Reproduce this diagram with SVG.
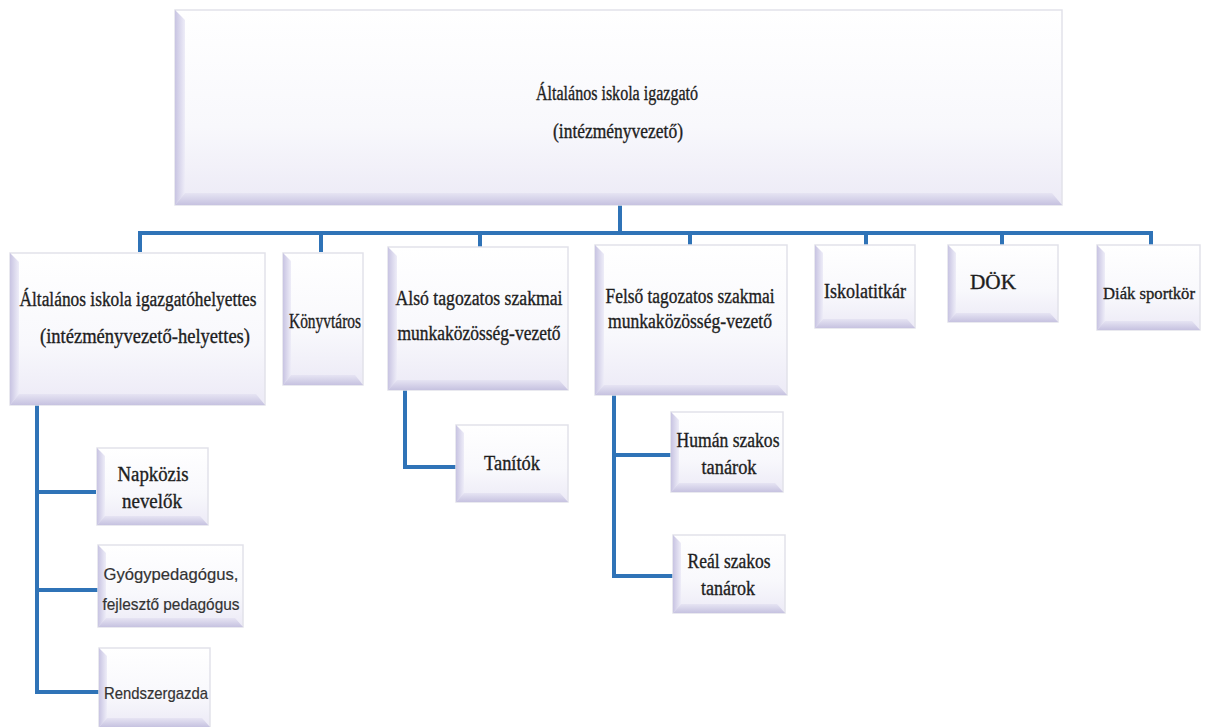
<svg xmlns="http://www.w3.org/2000/svg" width="1207" height="727" viewBox="0 0 1207 727">
<defs>
<linearGradient id="face" x1="0" y1="0" x2="0" y2="1">
<stop offset="0" stop-color="#ffffff"/>
<stop offset="0.6" stop-color="#f8f8fc"/>
<stop offset="1" stop-color="#eceaf6"/>
</linearGradient>
<linearGradient id="lb" x1="0" y1="0" x2="1" y2="0">
<stop offset="0" stop-color="#c8c4e2"/>
<stop offset="1" stop-color="#eeedf8"/>
</linearGradient>
<linearGradient id="bb" x1="0" y1="0" x2="0" y2="1">
<stop offset="0" stop-color="#e6e4f3"/>
<stop offset="1" stop-color="#c6c2e0"/>
</linearGradient>
</defs>
<style>
.box{fill:url(#face);stroke:#e2e2ea;stroke-width:1.5}
.lb{fill:url(#lb)}
.bb{fill:url(#bb)}
.t{font-family:"Liberation Serif","Times New Roman",serif;font-size:20px;fill:#1e1e1e;stroke:#1e1e1e;stroke-width:0.35;text-anchor:middle}
.s{font-family:"Liberation Sans",Arial,sans-serif;font-size:17px;fill:#333;stroke:#333;stroke-width:0.2;text-anchor:middle}
.c{fill:none;stroke:#2f73b7;stroke-width:4;stroke-linecap:square;stroke-linejoin:miter}
</style>
<rect width="1207" height="727" fill="#ffffff"/>

<g id="connectors">
<path class="c" d="M620 207 V233 M140 233 H1151 M140 233 V250 M321 233 V250 M480 233 V247 M690 233 V245 M866 233 V245 M1002 233 V245 M1151 233 V245"/>
<path class="c" d="M37 407 V692 M37 492 H94 M37 590 H96 M37 692 H98"/>
<path class="c" d="M405 392 V467 H454"/>
<path class="c" d="M614 397 V576 M614 455 H669 M614 576 H671"/>
</g>

<g id="n-igazgato">
<rect class="box" x="175" y="10" width="887" height="195"/>
<polygon class="lb" points="175,10 185,20 185,193 175,205"/>
<polygon class="bb" points="175,205 185,193 1052,193 1062,205"/>
<text class="t" x="617" y="100" textLength="162" lengthAdjust="spacingAndGlyphs">Általános iskola igazgató</text>
<text class="t" x="618" y="138" textLength="130" lengthAdjust="spacingAndGlyphs">(intézményvezető)</text>
</g>

<g id="n-helyettes">
<rect class="box" x="10" y="253" width="255" height="152"/>
<polygon class="lb" points="10,253 19,262 19,394 10,405"/>
<polygon class="bb" points="10,405 19,394 256,394 265,405"/>
<text class="t" x="138" y="306" textLength="237" lengthAdjust="spacingAndGlyphs">Általános iskola igazgatóhelyettes</text>
<text class="t" x="145" y="343" textLength="210" lengthAdjust="spacingAndGlyphs">(intézményvezető-helyettes)</text>
</g>

<g id="n-konyvtaros">
<rect class="box" x="283" y="253" width="80" height="132"/>
<polygon class="lb" points="283,253 291,261 291,375 283,385"/>
<polygon class="bb" points="283,385 291,375 355,375 363,385"/>
<text class="t" x="325" y="328" textLength="72" lengthAdjust="spacingAndGlyphs">Könyvtáros</text>
</g>

<g id="n-also">
<rect class="box" x="388" y="247" width="180" height="143"/>
<polygon class="lb" points="388,247 397,256 397,380 388,390"/>
<polygon class="bb" points="388,390 397,380 559,380 568,390"/>
<text class="t" x="479" y="305" textLength="167" lengthAdjust="spacingAndGlyphs">Alsó tagozatos szakmai</text>
<text class="t" x="479" y="340" textLength="163" lengthAdjust="spacingAndGlyphs">munkaközösség-vezető</text>
</g>

<g id="n-felso">
<rect class="box" x="595" y="245" width="192" height="150"/>
<polygon class="lb" points="595,245 604,254 604,385 595,395"/>
<polygon class="bb" points="595,395 604,385 778,385 787,395"/>
<text class="t" x="690" y="303" textLength="169" lengthAdjust="spacingAndGlyphs">Felső tagozatos szakmai</text>
<text class="t" x="690" y="328" textLength="164" lengthAdjust="spacingAndGlyphs">munkaközösség-vezető</text>
</g>

<g id="n-titkar">
<rect class="box" x="815" y="245" width="100" height="83"/>
<polygon class="lb" points="815,245 823,253 823,319 815,328"/>
<polygon class="bb" points="815,328 823,319 907,319 915,328"/>
<text class="t" x="865" y="298" textLength="82" lengthAdjust="spacingAndGlyphs">Iskolatitkár</text>
</g>

<g id="n-dok">
<rect class="box" x="948" y="245" width="110" height="77"/>
<polygon class="lb" points="948,245 956,253 956,313 948,322"/>
<polygon class="bb" points="948,322 956,313 1050,313 1058,322"/>
<text class="t" x="993" y="289" textLength="46" lengthAdjust="spacingAndGlyphs">DÖK</text>
</g>

<g id="n-sportkor">
<rect class="box" x="1097" y="245" width="103" height="85"/>
<polygon class="lb" points="1097,245 1105,253 1105,321 1097,330"/>
<polygon class="bb" points="1097,330 1105,321 1192,321 1200,330"/>
<text class="t" x="1149" y="299" style="font-size:17px" textLength="92" lengthAdjust="spacingAndGlyphs">Diák sportkör</text>
</g>

<g id="n-napkozis">
<rect class="box" x="97" y="448" width="111" height="77"/>
<polygon class="lb" points="97,448 105,456 105,516 97,525"/>
<polygon class="bb" points="97,525 105,516 200,516 208,525"/>
<text class="t" x="153" y="481" textLength="71" lengthAdjust="spacingAndGlyphs">Napközis</text>
<text class="t" x="152" y="508" textLength="60" lengthAdjust="spacingAndGlyphs">nevelők</text>
</g>

<g id="n-gyogyped">
<rect class="box" x="98" y="545" width="145" height="82"/>
<polygon class="lb" points="98,545 106,553 106,618 98,627"/>
<polygon class="bb" points="98,627 106,618 235,618 243,627"/>
<text class="s" x="171" y="580" textLength="135" lengthAdjust="spacingAndGlyphs">Gyógypedagógus,</text>
<text class="s" x="171" y="610" textLength="137" lengthAdjust="spacingAndGlyphs">fejlesztő pedagógus</text>
</g>

<g id="n-rendszergazda">
<rect class="box" x="99" y="648" width="111" height="79"/>
<polygon class="lb" points="99,648 107,656 107,718 99,727"/>
<polygon class="bb" points="99,727 107,718 202,718 210,727"/>
<text class="s" x="156" y="699" textLength="104" lengthAdjust="spacingAndGlyphs">Rendszergazda</text>
</g>

<g id="n-tanitok">
<rect class="box" x="456" y="425" width="112" height="77"/>
<polygon class="lb" points="456,425 464,433 464,493 456,502"/>
<polygon class="bb" points="456,502 464,493 560,493 568,502"/>
<text class="t" x="512" y="470" textLength="56" lengthAdjust="spacingAndGlyphs">Tanítók</text>
</g>

<g id="n-human">
<rect class="box" x="671" y="412" width="112" height="80"/>
<polygon class="lb" points="671,412 679,420 679,483 671,492"/>
<polygon class="bb" points="671,492 679,483 775,483 783,492"/>
<text class="t" x="728" y="447" textLength="103" lengthAdjust="spacingAndGlyphs">Humán szakos</text>
<text class="t" x="729" y="474" textLength="55" lengthAdjust="spacingAndGlyphs">tanárok</text>
</g>

<g id="n-real">
<rect class="box" x="673" y="535" width="112" height="78"/>
<polygon class="lb" points="673,535 681,543 681,604 673,613"/>
<polygon class="bb" points="673,613 681,604 777,604 785,613"/>
<text class="t" x="729" y="568" textLength="83" lengthAdjust="spacingAndGlyphs">Reál szakos</text>
<text class="t" x="728" y="595" textLength="54" lengthAdjust="spacingAndGlyphs">tanárok</text>
</g>
</svg>
